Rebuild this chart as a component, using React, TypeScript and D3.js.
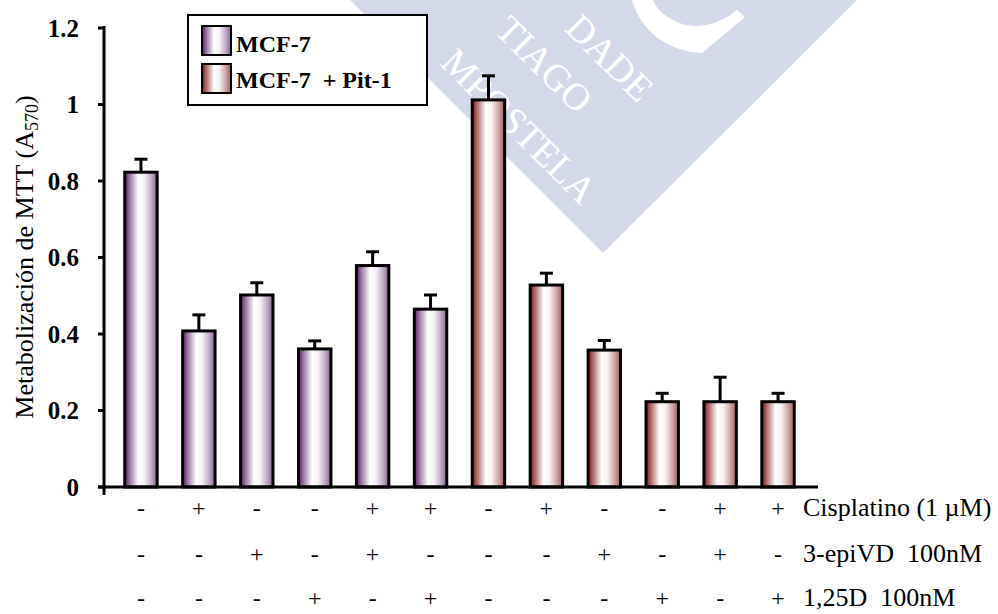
import React from "react";
import * as d3 from "d3";

const categories = ["1", "2", "3", "4", "5", "6", "7", "8", "9", "10", "11", "12"];
const groups = ["MCF-7", "MCF-7", "MCF-7", "MCF-7", "MCF-7", "MCF-7", "Pit", "Pit", "Pit", "Pit", "Pit", "Pit"];
const values = [0.823, 0.408, 0.502, 0.361, 0.579, 0.465, 1.012, 0.528, 0.358, 0.223, 0.223, 0.223];
const errors = [0.034, 0.042, 0.032, 0.021, 0.036, 0.037, 0.063, 0.031, 0.025, 0.022, 0.064, 0.022];
const yTicks = [0, 0.2, 0.4, 0.6, 0.8, 1, 1.2];
const rowCis = ["-", "+", "-", "-", "+", "+", "-", "+", "-", "-", "+", "+"];
const rowEpi = ["-", "-", "+", "-", "+", "-", "-", "-", "+", "-", "+", "-"];
const row125 = ["-", "-", "-", "+", "-", "+", "-", "-", "-", "+", "-", "+"];
const rowLabels = ["Cisplatino (1 \u00b5M)", "3-epiVD  100nM", "1,25D  100nM"];
const legendLabels = ["MCF-7", "MCF-7  + Pit-1"];
const watermarkLines = ["DADE", "TIAGO", "MPOSTELA"];

const W = 998;
const H = 614;
const serif = "'Liberation Serif', 'Times New Roman', serif";

export default function App() {
  const x = d3
    .scaleBand<string>()
    .domain(categories)
    .range([112, 807])
    .paddingInner(0.44)
    .paddingOuter(0.22);
  const y = d3.scaleLinear().domain([0, 1.2]).range([487, 28]);
  const axisX = 104;
  const rows = [rowCis, rowEpi, row125];
  const rowBaselines = [516, 562, 606];
  const wmPos = [
    [647, 95],
    [586, 106],
    [590, 197],
  ];

  return (
    <svg
      width={W}
      height={H}
      viewBox={`0 0 ${W} ${H}`}
      style={{ position: "absolute", left: 0, top: 0, background: "#fff" }}
    >
      <defs>
        <linearGradient id="gPurple" x1="0" x2="1" y1="0" y2="0">
          <stop offset="0" stopColor="#5a1f63" />
          <stop offset="0.18" stopColor="#a684ad" />
          <stop offset="0.42" stopColor="#ffffff" />
          <stop offset="0.6" stopColor="#f6f2f7" />
          <stop offset="0.85" stopColor="#b9a1be" />
          <stop offset="1" stopColor="#86608c" />
        </linearGradient>
        <linearGradient id="gRed" x1="0" x2="1" y1="0" y2="0">
          <stop offset="0" stopColor="#7a1a1c" />
          <stop offset="0.18" stopColor="#b97a7a" />
          <stop offset="0.42" stopColor="#ffffff" />
          <stop offset="0.6" stopColor="#f8f1f1" />
          <stop offset="0.85" stopColor="#c79a9a" />
          <stop offset="1" stopColor="#a05a5a" />
        </linearGradient>
      </defs>

      {/* watermark */}
      <g>
        <polygon points="350,0 603,253 857,0" fill="#d3d9e8" />
        <path
          d="M632,0 C640,30 668,52 702,53 L745,17 L737,10 C722,22 702,30 682,24 C666,18 656,9 653,0 Z"
          fill="#ffffff"
        />
        {watermarkLines.map((t, i) => (
          <text
            key={t}
            transform={`translate(${wmPos[i][0]},${wmPos[i][1]}) rotate(45)`}
            textAnchor="end"
            dominantBaseline="central"
            fontFamily={serif}
            fontSize={38}
            fill="#ffffff"
          >
            {t}
          </text>
        ))}
      </g>

      {/* bars */}
      {categories.map((c, i) => {
        const x0 = x(c)!;
        const bw = x.bandwidth();
        const cx = x0 + bw / 2;
        const yTop = y(values[i]);
        const yErr = y(values[i] + errors[i]);
        return (
          <g key={c}>
            <line x1={cx} x2={cx} y1={yTop} y2={yErr} stroke="#000" strokeWidth={3} />
            <line x1={cx - 6.5} x2={cx + 6.5} y1={yErr} y2={yErr} stroke="#000" strokeWidth={3} />
            <rect
              x={x0}
              y={yTop}
              width={bw}
              height={y(0) - yTop}
              fill={groups[i] === "Pit" ? "url(#gRed)" : "url(#gPurple)"}
              stroke="#000"
              strokeWidth={3}
            />
          </g>
        );
      })}

      {/* axes */}
      <line x1={axisX} x2={axisX} y1={26} y2={495} stroke="#000" strokeWidth={3} />
      <line x1={98} x2={818} y1={y(0)} y2={y(0)} stroke="#000" strokeWidth={3} />
      {yTicks.map((t) => (
        <g key={t}>
          <line x1={98} x2={axisX} y1={y(t)} y2={y(t)} stroke="#000" strokeWidth={3} />
          <text
            x={79}
            y={y(t)}
            dy="0.35em"
            textAnchor="end"
            fontFamily={serif}
            fontWeight="bold"
            fontSize={25}
            fill="#000"
          >
            {String(t)}
          </text>
        </g>
      ))}

      {/* y title */}
      <text
        transform={`translate(33,257) rotate(-90)`}
        textAnchor="middle"
        fontFamily={serif}
        fontSize={26}
        fill="#000"
      >
        Metabolización de MTT (A
        <tspan fontSize={18} dy={5}>570</tspan>
        <tspan dy={-5}>)</tspan>
      </text>

      {/* treatment rows */}
      {rows.map((r, ri) => (
        <g key={ri}>
          {r.map((s, i) => (
            <text
              key={i}
              x={x(categories[i])! + x.bandwidth() / 2}
              y={rowBaselines[ri]}
              textAnchor="middle"
              fontFamily={serif}
              fontSize={24}
              fill="#000"
            >
              {s}
            </text>
          ))}
          <text x={803} y={rowBaselines[ri]} fontFamily={serif} fontSize={26} fill="#000" style={{ whiteSpace: "pre" }}>
            {rowLabels[ri]}
          </text>
        </g>
      ))}

      {/* legend */}
      <rect x={188} y={15} width={239} height={90} fill="#fff" stroke="#000" strokeWidth={2} />
      {legendLabels.map((l, i) => (
        <g key={l}>
          <rect
            x={202}
            y={26 + i * 38}
            width={29}
            height={29}
            fill={i === 0 ? "url(#gPurple)" : "url(#gRed)"}
            stroke="#000"
            strokeWidth={2}
          />
          <text
            x={236}
            y={52 + i * 36}
            fontFamily={serif}
            fontWeight="bold"
            fontSize={24}
            fill="#000"
            style={{ whiteSpace: "pre" }}
          >
            {l}
          </text>
        </g>
      ))}
    </svg>
  );
}
